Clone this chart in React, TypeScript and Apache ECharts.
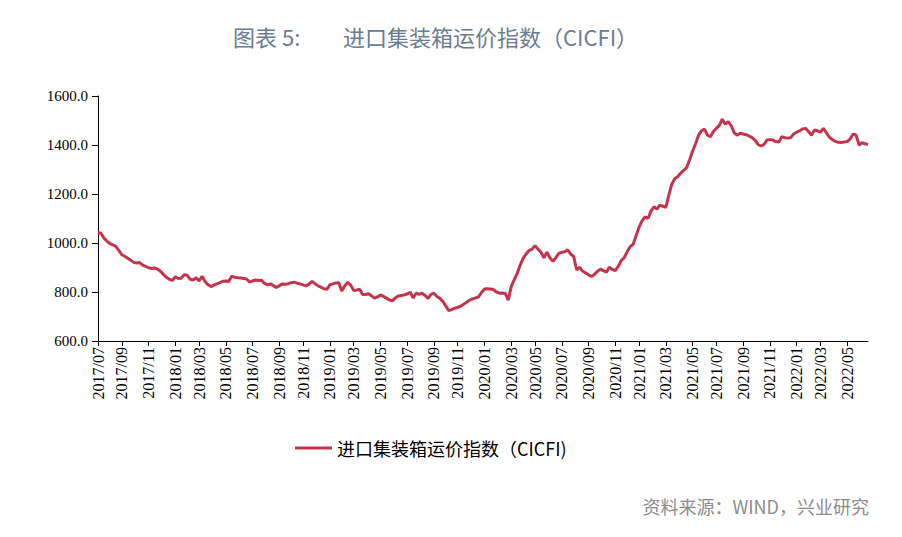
import React, { useEffect, useRef } from "react";
import * as echarts from "echarts";

// Weekly CICFI values (Fridays)
const v2017 = [1043, 1040, 1020, 1008, 998, 992, 986, 970, 952, 946, 938, 930, 921, 918, 920, 910, 905, 899, 896, 898, 894, 885, 872, 860, 852, 847];
const v2018 = [862, 855, 856, 870, 868, 852, 849, 858, 845, 864, 843, 830, 822, 828, 833, 838, 844, 845, 843, 865, 860, 858, 857, 855, 853, 840, 845, 849, 847, 848, 835, 829, 833, 826, 818, 826, 833, 832, 834, 838, 840, 836, 833, 829, 825, 832, 843, 834, 825, 820, 813, 811];
const v2019 = [829, 833, 837, 838, 804, 825, 840, 828, 806, 808, 811, 790, 790, 793, 784, 775, 780, 788, 782, 775, 768, 764, 776, 784, 786, 788, 792, 799, 776, 795, 790, 795, 786, 774, 790, 795, 782, 774, 762, 742, 724, 728, 734, 737, 742, 750, 758, 767, 772, 776, 780, 798];
const v2020 = [812, 813, 812, 810, 800, 795, 796, 794, 767, 822, 850, 876, 910, 937, 955, 969, 975, 989, 975, 962, 940, 962, 940, 925, 940, 958, 962, 964, 972, 955, 945, 890, 901, 885, 878, 870, 863, 872, 885, 893, 887, 881, 901, 892, 887, 905, 928, 940, 965, 985, 995, 1030];
const v2021 = [1065, 1090, 1107, 1100, 1130, 1148, 1138, 1155, 1150, 1145, 1195, 1240, 1262, 1271, 1285, 1296, 1308, 1340, 1375, 1405, 1440, 1458, 1465, 1440, 1434, 1455, 1468, 1480, 1505, 1485, 1495, 1478, 1450, 1440, 1448, 1445, 1442, 1437, 1430, 1420, 1402, 1396, 1402, 1420, 1422, 1420, 1414, 1412, 1434, 1430, 1428, 1430, 1445];
const v2022 = [1452, 1458, 1465, 1468, 1455, 1440, 1461, 1458, 1452, 1468, 1450, 1432, 1422, 1415, 1411, 1410, 1412, 1414, 1425, 1445, 1440, 1400, 1410, 1405, 1402];

const values = [...v2017, ...v2018, ...v2019, ...v2020, ...v2021, ...v2022];
const firstWeek = "2017-07-07";
const seriesName = "进口集装箱运价指数（CICFI)";
const titleLeft = "图表 5:";
const titleRight = "进口集装箱运价指数（CICFI）";
const sourceText = "资料来源：WIND，兴业研究";
const yTicks = { min: 600, max: 1600, interval: 200 };

function pad(n: number) {
  return n < 10 ? "0" + n : "" + n;
}

// Weekly category labels (one per published Friday)
const weeks: string[] = (() => {
  const out: string[] = [];
  const start = new Date(firstWeek + "T00:00:00Z").getTime();
  for (let i = 0; i < values.length; i++) {
    const d = new Date(start + i * 7 * 86400000);
    out.push(d.getUTCFullYear() + "/" + pad(d.getUTCMonth() + 1) + "/" + pad(d.getUTCDate()));
  }
  return out;
})();

function showIdx(index: number) {
  if (index === 0) return true;
  const m = weeks[index].slice(5, 7);
  const pm = weeks[index - 1].slice(5, 7);
  return m !== pm && parseInt(m, 10) % 2 === 1;
}

export default function App() {
  const ref = useRef<HTMLDivElement>(null);
  useEffect(() => {
    if (!ref.current) return;
    const chart = echarts.init(ref.current, null, { renderer: "svg" });
    const serif = "'Liberation Serif', 'DejaVu Serif', serif";
    const cjk = "'Noto Sans CJK SC', 'Noto Sans', sans-serif";
    chart.setOption({
      animation: false,
      backgroundColor: "#ffffff",
      grid: { left: 98, right: 34, top: 96, bottom: 196, containLabel: false },
      legend: {
        data: [seriesName],
        left: 290,
        top: 434,
        icon: "rect",
        itemWidth: 37,
        itemHeight: 3,
        itemGap: 8,
        textStyle: { fontFamily: cjk, fontSize: 18, color: "#000" },
      },
      xAxis: {
        type: "category",
        data: weeks,
        boundaryGap: false,
        axisLine: { lineStyle: { color: "#000", width: 1 } },
        axisTick: {
          show: true,
          interval: (i: number) => showIdx(i),
          length: 5,
          lineStyle: { color: "#000" },
        },
        axisLabel: {
          interval: (i: number) => showIdx(i),
          rotate: 90,
          margin: 6,
          fontFamily: serif,
          fontSize: 16,
          color: "#000",
          formatter: (v: string) => v.slice(0, 7),
        },
        splitLine: { show: false },
      },
      yAxis: {
        type: "value",
        min: yTicks.min,
        max: yTicks.max,
        interval: yTicks.interval,
        axisLine: { show: true, lineStyle: { color: "#000", width: 1 } },
        axisTick: { show: true, length: 6, lineStyle: { color: "#000" } },
        axisLabel: {
          fontFamily: serif,
          fontSize: 15,
          color: "#000",
          margin: 10,
          formatter: (v: number) => v.toFixed(1),
        },
        splitLine: { show: false },
      },
      series: [
        {
          name: seriesName,
          type: "line",
          data: values,
          showSymbol: false,
          symbol: "none",
          lineStyle: { color: "#c3354d", width: 3 },
          itemStyle: { color: "#c3354d" },
        },
      ],
      graphic: [
        {
          type: "text",
          left: 233,
          top: 25,
          style: { text: titleLeft, fontFamily: cjk, fontSize: 22, fill: "#6b7d93" },
        },
        {
          type: "text",
          left: 343,
          top: 25,
          style: { text: titleRight, fontFamily: cjk, fontSize: 22, fill: "#6b7d93" },
        },
        {
          type: "text",
          right: 33,
          top: 497,
          style: { text: sourceText, fontFamily: cjk, fontSize: 18, fill: "#8c8c8c" },
        },
      ],
    });
    return () => chart.dispose();
  }, []);
  return (
    <div
      ref={ref}
      style={{ position: "fixed", left: 0, top: 0, width: 902, height: 537, background: "#fff" }}
    />
  );
}
